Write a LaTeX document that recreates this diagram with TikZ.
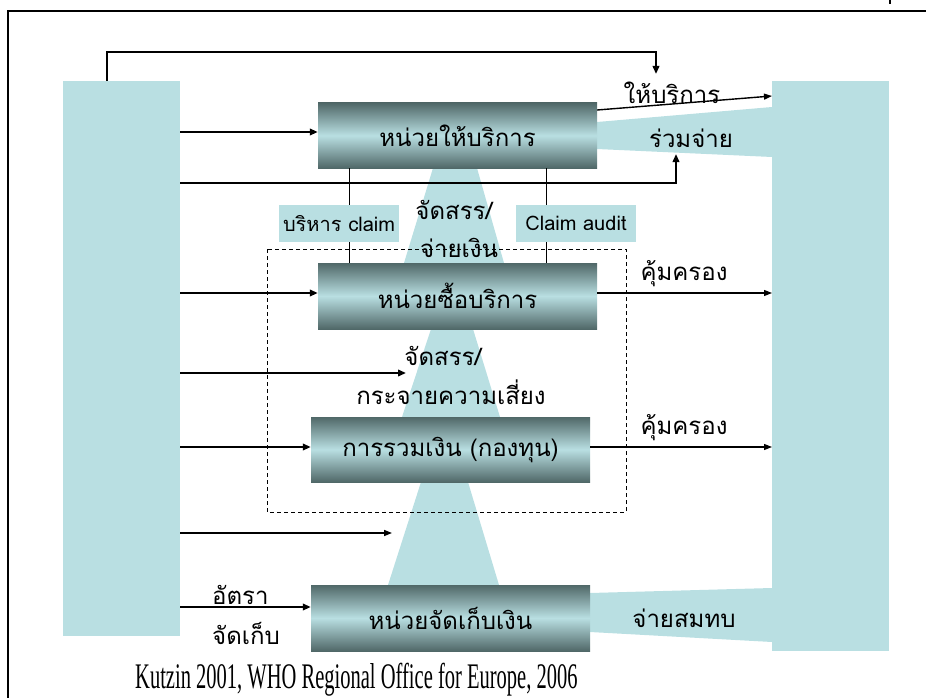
\documentclass[tikz,border=0pt]{standalone}
\usepackage{fontspec}
\setmainfont{Liberation Sans}
\newfontfamily\thai[Script=Thai]{Loma}
\newfontfamily\capfont[FakeStretch=0.57]{Liberation Serif}
\usetikzlibrary{arrows.meta}
\definecolor{cyanl}{RGB}{185,223,226}
\definecolor{boxdk}{RGB}{80,104,104}
\begin{document}
\begin{tikzpicture}[x=1pt,y=-1pt,
  blk/.style={fill=cyanl, draw=none, inner sep=0pt, anchor=north west},
  unit/.style={top color=boxdk, bottom color=boxdk, middle color=cyanl, minimum width=279pt, minimum height=65pt, inner sep=0pt, font=\thai\fontsize{24}{28}\selectfont},
  thk/.style={line width=2.4pt, -{Triangle[length=8pt,width=6.5pt]}},
  thn/.style={line width=1.1pt, -{Triangle[length=8pt,width=6pt]}},
  lab/.style={font=\thai\fontsize{24}{28}\selectfont, inner sep=0pt},
  tag/.style={fill=cyanl, minimum width=120pt, minimum height=37pt, inner sep=0pt, font=\thai\fontsize{20}{24}\selectfont}]
\useasboundingbox (0,0) rectangle (926,698);
% frame
\draw[line width=2.2pt] (8,698) -- (8,11) -- (926,11);
\draw[line width=1.5pt] (890,0) -- (890,4);
% cones
\fill[cyanl] (433,168) -- (477,168) -- (504,263) -- (404,263) -- cycle;
\fill[cyanl] (431,329) -- (473,329) -- (500,417) -- (402,417) -- cycle;
\fill[cyanl] (421,482) -- (468,482) -- (499,585) -- (388,585) -- cycle;
% bands
\fill[cyanl] (597,122) -- (772,107) -- (772,157) -- (597,149) -- cycle;
\fill[cyanl] (590,593) -- (772,588) -- (772,642) -- (590,632) -- cycle;
% side blocks
\node[blk, minimum width=117pt, minimum height=555pt] (src) at (63,81) {};
\node[blk, minimum width=117pt, minimum height=570pt] (pop) at (772,81) {};
% coordinates
\coordinate (x107) at (107,0);
\coordinate (x349) at (349,0);
\coordinate (x546) at (546,0);
\coordinate (y132) at (0,132);
\coordinate (y183) at (0,183);
\coordinate (y293) at (0,293);
\coordinate (y373) at (0,373);
\coordinate (y447) at (0,447);
\coordinate (y533) at (0,533);
\coordinate (y607) at (0,607);
\coordinate (topR) at (656,52);
\coordinate (topL) at (107,52);
\coordinate (copay) at (676,154);
\coordinate (cop0) at (676,183);
\coordinate (riskend) at (406,373);
\coordinate (poolend) at (392,533);
% boxes
\node[unit] (b1) at (457.5,135.5) {หน่วยให้บริการ};
\node[unit, minimum height=66pt] (b2) at (457.5,296) {หน่วยซื้อบริการ};
\node[unit] (b3) at (450.5,449.5) {การรวมเงิน (กองทุน)};
\node[unit, minimum height=66pt] (b4) at (450.5,618) {หน่วยจัดเก็บเงิน};
% vertical links
\draw[line width=0.9pt] (b1.south -| x349) -- (b2.north -| x349);
\draw[line width=0.9pt] (b1.south -| x546) -- (b2.north -| x546);
% dashed group
\draw[line width=0.9pt, dash pattern=on 4pt off 3pt] (267,249) rectangle (626,512);
% arrows from source
\draw[thk] (src.north -| x107) -- (topL) -- (topR) -- (656,74);
\draw[thk] (src.east |- y132) -- (b1.west |- y132);
\draw[thk] (src.east |- y183) -- (cop0) -- (copay);
\draw[thk] (src.east |- y293) -- (b2.west |- y293);
\draw[thk] (src.east |- y373) -- (riskend);
\draw[thk] (src.east |- y447) -- (b3.west |- y447);
\draw[thn, line width=1.5pt] (src.east |- y533) -- (poolend);
\draw[thk] (src.east |- y607) -- (b4.west |- y607);
% arrows to population
\draw[thn, line width=1.4pt] ([yshift=25.5pt]b1.east) -- ([yshift=-15pt]pop.north west);
\draw[thn] (b2.east |- y293) -- (pop.west |- y293);
\draw[thn] (b3.east |- y447) -- (pop.west |- y447);
% tags
\node[tag] (t1) at (339,223.5) {บริหาร claim};
\node[tag] (t2) at (576,223.5) {Claim audit};
% labels
\node[lab] (l1) at (672,93) {ให้บริการ};
\node[lab] (l2) at (691,138) {ร่วมจ่าย};
\node[lab] (l3) at (684,274) {คุ้มครอง};
\node[lab] (l4) at (684,428) {คุ้มครอง};
\node[lab] (l5) at (684,618) {จ่ายสมทบ};
\node[lab] (l6) at (454,210) {จัดสรร/};
\node[lab] (l7) at (459,248) {จ่ายเงิน};
\node[lab] (l8) at (443,356) {จัดสรร/};
\node[lab] (l9) at (451,392) {กระจายความเสี่ยง};
\node[lab, anchor=west] (l10) at (212,595) {อัตรา};
\node[lab, anchor=west] (l11) at (212,633) {จัดเก็บ};
\node[font=\capfont\fontsize{36}{40}\selectfont, inner sep=0pt, anchor=base west] (cap) at (135,688) {Kutzin 2001, WHO Regional Office for Europe, 2006};
\end{tikzpicture}
\end{document}
